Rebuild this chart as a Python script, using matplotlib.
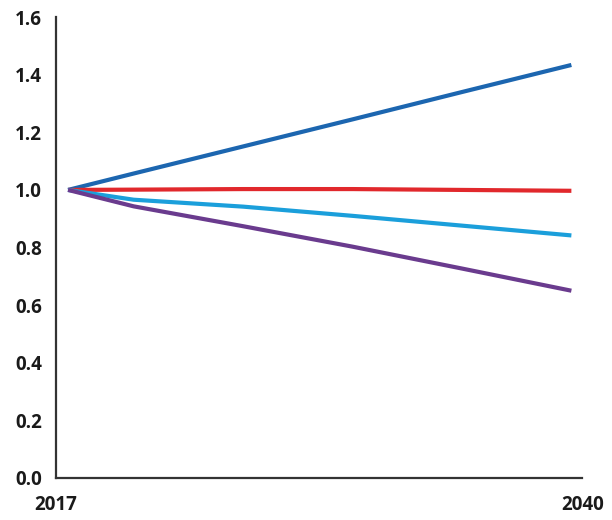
import matplotlib
matplotlib.use("Agg")
import matplotlib.pyplot as plt

years = [2017, 2020, 2025, 2030, 2035, 2040]
dark_blue = [1.0, 1.057, 1.151, 1.245, 1.340, 1.434]
red = [1.0, 1.001, 1.003, 1.003, 1.000, 0.997]
light_blue = [1.0, 0.966, 0.942, 0.910, 0.876, 0.842]
purple = [1.0, 0.943, 0.874, 0.803, 0.727, 0.650]

yticks = [0.0, 0.2, 0.4, 0.6, 0.8, 1.0, 1.2, 1.4, 1.6]
xlabels = ["2017", "2040"]

plt.rcParams['font.family'] = ['Open Sans', 'DejaVu Sans']

fig = plt.figure(figsize=(6.12, 5.2), dpi=100)
ax = fig.add_axes([0.0915, 0.081, 0.86, 0.886])

ax.plot(years, dark_blue, color='#1c66b0', lw=3, solid_capstyle='butt')
ax.plot(years, red, color='#e1282c', lw=3, solid_capstyle='butt')
ax.plot(years, light_blue, color='#1b9fdb', lw=3, solid_capstyle='butt')
ax.plot(years, purple, color='#6a3b8e', lw=3, solid_capstyle='butt')

# axis ends sit a bit outside the data range, labels go at the ends
x0, x1 = 2016.45, 2040.5
ax.set_xlim(x0, x1)
ax.set_ylim(0, 1.6)
ax.set_xticks([x0, x1])
ax.set_xticklabels(xlabels)
ax.set_yticks(yticks)
ax.set_yticklabels(["%.1f" % v for v in yticks])

for s in ['top', 'right']:
    ax.spines[s].set_visible(False)
for s in ['left', 'bottom']:
    ax.spines[s].set_color('#333333')
    ax.spines[s].set_linewidth(1.6)

ax.tick_params(axis='both', length=0, labelsize=13.5)
ax.tick_params(axis='y', pad=10)
ax.tick_params(axis='x', pad=12)
for t in ax.get_xticklabels() + ax.get_yticklabels():
    t.set_fontweight('bold')
    t.set_color('#1a1a1a')

fig.savefig("out.png", dpi=100)
